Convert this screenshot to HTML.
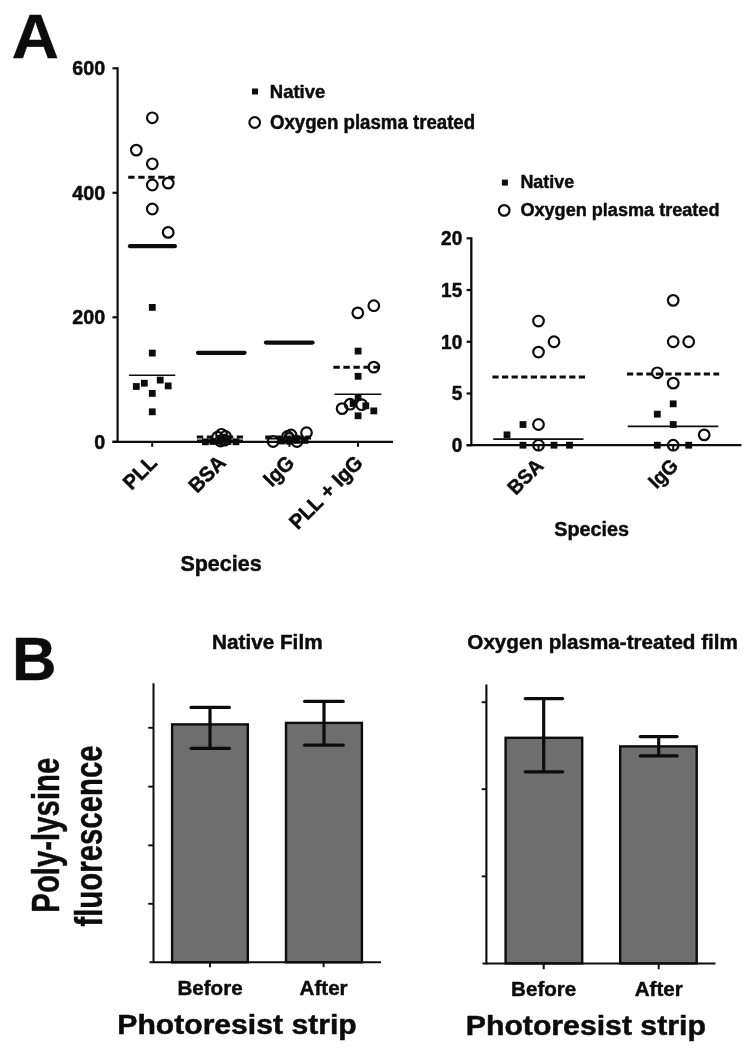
<!DOCTYPE html>
<html><head><meta charset="utf-8"><title>Figure</title>
<style>
html,body{margin:0;padding:0;background:#fff;}
svg{display:block;filter:blur(0.45px);font-family:"Liberation Sans",sans-serif;font-weight:bold;fill:#0c0c0c;}
text{stroke:#0c0c0c;stroke-width:0.45px;stroke-linejoin:round;}
</style></head><body>
<svg width="754" height="1050" viewBox="0 0 754 1050">
<rect width="754" height="1050" fill="#fff"/>
<text transform="translate(11.8,58.1) scale(1.05,1.02)" font-size="62.2" text-anchor="start" >A</text>
<text transform="translate(11.9,680.0) scale(1,1.005)" font-size="61.6" text-anchor="start" >B</text>
<line x1="117.6" y1="67.3" x2="117.6" y2="442.8" stroke="#0c0c0c" stroke-width="2.2" stroke-linecap="butt"/>
<line x1="112.5" y1="441.8" x2="393" y2="441.8" stroke="#0c0c0c" stroke-width="2.3" stroke-linecap="butt"/>
<line x1="112.5" y1="441.8" x2="117.6" y2="441.8" stroke="#0c0c0c" stroke-width="2.2" stroke-linecap="butt"/>
<text transform="translate(105.2,448.8) scale(1,1.04)" font-size="19.7" text-anchor="end" >0</text>
<line x1="112.5" y1="317.3" x2="117.6" y2="317.3" stroke="#0c0c0c" stroke-width="2.2" stroke-linecap="butt"/>
<text transform="translate(105.2,324.3) scale(1,1.04)" font-size="19.7" text-anchor="end" >200</text>
<line x1="112.5" y1="192.8" x2="117.6" y2="192.8" stroke="#0c0c0c" stroke-width="2.2" stroke-linecap="butt"/>
<text transform="translate(105.2,199.8) scale(1,1.04)" font-size="19.7" text-anchor="end" >400</text>
<line x1="112.5" y1="68.30000000000001" x2="117.6" y2="68.30000000000001" stroke="#0c0c0c" stroke-width="2.2" stroke-linecap="butt"/>
<text transform="translate(105.2,75.30000000000001) scale(1,1.04)" font-size="19.7" text-anchor="end" >600</text>
<line x1="152.2" y1="441.8" x2="152.2" y2="446.8" stroke="#0c0c0c" stroke-width="2" stroke-linecap="butt"/>
<line x1="220.8" y1="441.8" x2="220.8" y2="446.8" stroke="#0c0c0c" stroke-width="2" stroke-linecap="butt"/>
<line x1="289.4" y1="441.8" x2="289.4" y2="446.8" stroke="#0c0c0c" stroke-width="2" stroke-linecap="butt"/>
<line x1="358" y1="441.8" x2="358" y2="446.8" stroke="#0c0c0c" stroke-width="2" stroke-linecap="butt"/>
<text font-size="20.1" text-anchor="end" transform="translate(158.29999999999998,464.1) rotate(-45) scale(1,1.04)">PLL</text>
<text font-size="20.1" text-anchor="end" transform="translate(226.9,464.1) rotate(-45) scale(1,1.04)">BSA</text>
<text font-size="20.1" text-anchor="end" transform="translate(295.5,464.1) rotate(-45) scale(1,1.04)">IgG</text>
<text font-size="20.1" text-anchor="end" transform="translate(364.1,464.1) rotate(-45) scale(1,1.04)">PLL + IgG</text>
<text transform="translate(221,571.4) scale(1,1.04)" font-size="21.5" text-anchor="middle" >Species</text>
<line x1="128.2" y1="177.3" x2="175" y2="177.3" stroke="#0c0c0c" stroke-width="3.0" stroke-dasharray="6.4 3.6" stroke-linecap="butt"/>
<line x1="130" y1="246.2" x2="174.8" y2="246.2" stroke="#0c0c0c" stroke-width="4.3" stroke-linecap="round"/>
<line x1="128.9" y1="375.3" x2="175.3" y2="375.3" stroke="#0c0c0c" stroke-width="1.45" stroke-linecap="butt"/>
<circle cx="152.3" cy="117.8" r="5.3" fill="none" stroke="#0c0c0c" stroke-width="2.2"/>
<circle cx="136.3" cy="150.1" r="5.3" fill="none" stroke="#0c0c0c" stroke-width="2.2"/>
<circle cx="152.3" cy="163.8" r="5.3" fill="none" stroke="#0c0c0c" stroke-width="2.2"/>
<circle cx="152.3" cy="185" r="5.3" fill="none" stroke="#0c0c0c" stroke-width="2.2"/>
<circle cx="168.2" cy="183.1" r="5.3" fill="none" stroke="#0c0c0c" stroke-width="2.2"/>
<circle cx="152.3" cy="209" r="5.3" fill="none" stroke="#0c0c0c" stroke-width="2.2"/>
<circle cx="168.2" cy="232.4" r="5.3" fill="none" stroke="#0c0c0c" stroke-width="2.2"/>
<rect x="148.90" y="304.00" width="6.8" height="6.8" fill="#0c0c0c"/>
<rect x="148.90" y="349.70" width="6.8" height="6.8" fill="#0c0c0c"/>
<rect x="132.90" y="383.10" width="6.8" height="6.8" fill="#0c0c0c"/>
<rect x="140.90" y="379.80" width="6.8" height="6.8" fill="#0c0c0c"/>
<rect x="156.80" y="376.70" width="6.8" height="6.8" fill="#0c0c0c"/>
<rect x="164.80" y="382.50" width="6.8" height="6.8" fill="#0c0c0c"/>
<rect x="148.90" y="390.00" width="6.8" height="6.8" fill="#0c0c0c"/>
<rect x="148.90" y="408.40" width="6.8" height="6.8" fill="#0c0c0c"/>
<line x1="198" y1="352.85" x2="244.5" y2="352.85" stroke="#0c0c0c" stroke-width="4.3" stroke-linecap="round"/>
<line x1="196.8" y1="437" x2="243" y2="437" stroke="#0c0c0c" stroke-width="3.0" stroke-dasharray="6.4 3.6" stroke-linecap="butt"/>
<line x1="197" y1="440.2" x2="243" y2="440.2" stroke="#0c0c0c" stroke-width="1.6" stroke-linecap="butt"/>
<rect x="202.00" y="438.40" width="6.8" height="6.8" fill="#0c0c0c"/>
<rect x="209.40" y="438.10" width="6.8" height="6.8" fill="#0c0c0c"/>
<rect x="217.00" y="437.80" width="6.8" height="6.8" fill="#0c0c0c"/>
<rect x="224.60" y="438.10" width="6.8" height="6.8" fill="#0c0c0c"/>
<rect x="232.60" y="438.40" width="6.8" height="6.8" fill="#0c0c0c"/>
<circle cx="217.5" cy="437.2" r="5.3" fill="none" stroke="#0c0c0c" stroke-width="2.2"/>
<circle cx="221.5" cy="434.3" r="5.3" fill="none" stroke="#0c0c0c" stroke-width="2.2"/>
<circle cx="225.5" cy="436.5" r="5.3" fill="none" stroke="#0c0c0c" stroke-width="2.2"/>
<circle cx="220.5" cy="441" r="5.3" fill="none" stroke="#0c0c0c" stroke-width="2.2"/>
<circle cx="224.5" cy="440.2" r="5.3" fill="none" stroke="#0c0c0c" stroke-width="2.2"/>
<line x1="266" y1="342.55" x2="312.5" y2="342.55" stroke="#0c0c0c" stroke-width="4.3" stroke-linecap="round"/>
<line x1="265.2" y1="437" x2="311" y2="437" stroke="#0c0c0c" stroke-width="3.0" stroke-dasharray="6.4 3.6" stroke-linecap="butt"/>
<line x1="265.5" y1="438.6" x2="311" y2="438.6" stroke="#0c0c0c" stroke-width="1.6" stroke-linecap="butt"/>
<rect x="278.60" y="437.60" width="6.8" height="6.8" fill="#0c0c0c"/>
<rect x="286.00" y="437.60" width="6.8" height="6.8" fill="#0c0c0c"/>
<rect x="293.60" y="437.00" width="6.8" height="6.8" fill="#0c0c0c"/>
<rect x="301.60" y="437.00" width="6.8" height="6.8" fill="#0c0c0c"/>
<circle cx="273.1" cy="441.5" r="5.3" fill="none" stroke="#0c0c0c" stroke-width="2.2"/>
<circle cx="297" cy="441.5" r="5.3" fill="none" stroke="#0c0c0c" stroke-width="2.2"/>
<circle cx="306.5" cy="432.7" r="5.3" fill="none" stroke="#0c0c0c" stroke-width="2.2"/>
<circle cx="287.5" cy="436.5" r="5.3" fill="none" stroke="#0c0c0c" stroke-width="2.2"/>
<circle cx="291" cy="435" r="5.3" fill="none" stroke="#0c0c0c" stroke-width="2.2"/>
<circle cx="289.4" cy="438.5" r="5.3" fill="none" stroke="#0c0c0c" stroke-width="2.2"/>
<line x1="333.4" y1="367.3" x2="380.5" y2="367.3" stroke="#0c0c0c" stroke-width="3.0" stroke-dasharray="6.4 3.6" stroke-linecap="butt"/>
<line x1="334.4" y1="394.3" x2="381.4" y2="394.3" stroke="#0c0c0c" stroke-width="1.6" stroke-linecap="butt"/>
<rect x="354.70" y="347.70" width="6.8" height="6.8" fill="#0c0c0c"/>
<rect x="354.70" y="372.90" width="6.8" height="6.8" fill="#0c0c0c"/>
<rect x="354.70" y="394.10" width="6.8" height="6.8" fill="#0c0c0c"/>
<rect x="349.80" y="400.10" width="6.8" height="6.8" fill="#0c0c0c"/>
<rect x="362.40" y="402.40" width="6.8" height="6.8" fill="#0c0c0c"/>
<rect x="370.40" y="407.50" width="6.8" height="6.8" fill="#0c0c0c"/>
<rect x="354.70" y="412.40" width="6.8" height="6.8" fill="#0c0c0c"/>
<circle cx="357.8" cy="312.9" r="5.3" fill="none" stroke="#0c0c0c" stroke-width="2.2"/>
<circle cx="373.8" cy="305.7" r="5.3" fill="none" stroke="#0c0c0c" stroke-width="2.2"/>
<circle cx="373.8" cy="367.1" r="5.3" fill="none" stroke="#0c0c0c" stroke-width="2.2"/>
<circle cx="342.1" cy="408.6" r="5.3" fill="none" stroke="#0c0c0c" stroke-width="2.2"/>
<circle cx="350.1" cy="404.2" r="5.3" fill="none" stroke="#0c0c0c" stroke-width="2.2"/>
<circle cx="361.7" cy="404.7" r="5.3" fill="none" stroke="#0c0c0c" stroke-width="2.2"/>
<rect x="252.00" y="88.50" width="6" height="6" fill="#0c0c0c"/>
<circle cx="254.7" cy="122.5" r="5.3" fill="none" stroke="#0c0c0c" stroke-width="2.2"/>
<text transform="translate(269.8,98) scale(1,1.04)" font-size="18.5" text-anchor="start" >Native</text>
<text transform="translate(270,128.6) scale(1,1.04)" font-size="18.65" text-anchor="start" >Oxygen plasma treated</text>
<line x1="471.3" y1="237.3" x2="471.3" y2="446.2" stroke="#0c0c0c" stroke-width="2.3" stroke-linecap="butt"/>
<line x1="466.6" y1="445.2" x2="741.5" y2="445.2" stroke="#0c0c0c" stroke-width="2.3" stroke-linecap="butt"/>
<line x1="466.6" y1="445.2" x2="471.3" y2="445.2" stroke="#0c0c0c" stroke-width="2.2" stroke-linecap="butt"/>
<text transform="translate(462.2,452.09999999999997) scale(1,1.04)" font-size="19.0" text-anchor="end" >0</text>
<line x1="466.6" y1="393.47499999999997" x2="471.3" y2="393.47499999999997" stroke="#0c0c0c" stroke-width="2.2" stroke-linecap="butt"/>
<text transform="translate(462.2,400.37499999999994) scale(1,1.04)" font-size="19.0" text-anchor="end" >5</text>
<line x1="466.6" y1="341.75" x2="471.3" y2="341.75" stroke="#0c0c0c" stroke-width="2.2" stroke-linecap="butt"/>
<text transform="translate(462.2,348.65) scale(1,1.04)" font-size="19.0" text-anchor="end" >10</text>
<line x1="466.6" y1="290.025" x2="471.3" y2="290.025" stroke="#0c0c0c" stroke-width="2.2" stroke-linecap="butt"/>
<text transform="translate(462.2,296.92499999999995) scale(1,1.04)" font-size="19.0" text-anchor="end" >15</text>
<line x1="466.6" y1="238.29999999999998" x2="471.3" y2="238.29999999999998" stroke="#0c0c0c" stroke-width="2.2" stroke-linecap="butt"/>
<text transform="translate(462.2,245.2) scale(1,1.04)" font-size="19.0" text-anchor="end" >20</text>
<line x1="538.5" y1="445.2" x2="538.5" y2="450.2" stroke="#0c0c0c" stroke-width="2" stroke-linecap="butt"/>
<text font-size="19.4" text-anchor="end" transform="translate(544.6,467.0) rotate(-45) scale(1,1.04)">BSA</text>
<line x1="673.2" y1="445.2" x2="673.2" y2="450.2" stroke="#0c0c0c" stroke-width="2" stroke-linecap="butt"/>
<text font-size="19.4" text-anchor="end" transform="translate(679.3000000000001,467.0) rotate(-45) scale(1,1.04)">IgG</text>
<text transform="translate(591.6,536.1) scale(1,1.04)" font-size="19.8" text-anchor="middle" >Species</text>
<line x1="492.4" y1="376.9" x2="585.4" y2="376.9" stroke="#0c0c0c" stroke-width="3.0" stroke-dasharray="6.2 3.4" stroke-linecap="butt"/>
<line x1="493.2" y1="439.1" x2="583.5" y2="439.1" stroke="#0c0c0c" stroke-width="1.6" stroke-linecap="butt"/>
<line x1="627" y1="374.1" x2="719.2" y2="374.1" stroke="#0c0c0c" stroke-width="3.0" stroke-dasharray="6.2 3.4" stroke-linecap="butt"/>
<line x1="627.7" y1="426.4" x2="718.3" y2="426.4" stroke="#0c0c0c" stroke-width="1.6" stroke-linecap="butt"/>
<rect x="503.60" y="431.46" width="6.8" height="6.8" fill="#0c0c0c"/>
<rect x="519.60" y="421.11" width="6.8" height="6.8" fill="#0c0c0c"/>
<rect x="519.60" y="441.80" width="6.8" height="6.8" fill="#0c0c0c"/>
<rect x="550.60" y="441.80" width="6.8" height="6.8" fill="#0c0c0c"/>
<rect x="566.10" y="441.80" width="6.8" height="6.8" fill="#0c0c0c"/>
<rect x="669.80" y="400.42" width="6.8" height="6.8" fill="#0c0c0c"/>
<rect x="653.90" y="410.76" width="6.8" height="6.8" fill="#0c0c0c"/>
<rect x="669.80" y="421.11" width="6.8" height="6.8" fill="#0c0c0c"/>
<rect x="653.90" y="441.80" width="6.8" height="6.8" fill="#0c0c0c"/>
<rect x="685.30" y="441.80" width="6.8" height="6.8" fill="#0c0c0c"/>
<circle cx="538.5" cy="321.06" r="5.3" fill="none" stroke="#0c0c0c" stroke-width="2.2"/>
<circle cx="554" cy="341.75" r="5.3" fill="none" stroke="#0c0c0c" stroke-width="2.2"/>
<circle cx="538.5" cy="352.095" r="5.3" fill="none" stroke="#0c0c0c" stroke-width="2.2"/>
<circle cx="538.5" cy="424.51" r="5.3" fill="none" stroke="#0c0c0c" stroke-width="2.2"/>
<circle cx="538.5" cy="445.2" r="5.3" fill="none" stroke="#0c0c0c" stroke-width="2.2"/>
<circle cx="673.2" cy="300.37" r="5.3" fill="none" stroke="#0c0c0c" stroke-width="2.2"/>
<circle cx="673.2" cy="341.75" r="5.3" fill="none" stroke="#0c0c0c" stroke-width="2.2"/>
<circle cx="688.7" cy="341.75" r="5.3" fill="none" stroke="#0c0c0c" stroke-width="2.2"/>
<circle cx="657.3" cy="372.78499999999997" r="5.3" fill="none" stroke="#0c0c0c" stroke-width="2.2"/>
<circle cx="673.2" cy="383.13" r="5.3" fill="none" stroke="#0c0c0c" stroke-width="2.2"/>
<circle cx="704.2" cy="434.855" r="5.3" fill="none" stroke="#0c0c0c" stroke-width="2.2"/>
<circle cx="673.2" cy="445.2" r="5.3" fill="none" stroke="#0c0c0c" stroke-width="2.2"/>
<rect x="501.90" y="179.60" width="6" height="6" fill="#0c0c0c"/>
<circle cx="504.2" cy="210.4" r="5.3" fill="none" stroke="#0c0c0c" stroke-width="2.2"/>
<text transform="translate(520.4,188.3) scale(1,1.04)" font-size="17.9" text-anchor="start" >Native</text>
<text transform="translate(520.4,215.9) scale(1,1.04)" font-size="18.1" text-anchor="start" >Oxygen plasma treated</text>
<text transform="translate(267.3,648.7) scale(1.068,1.01)" font-size="19.4" text-anchor="middle" >Native Film</text>
<rect x="172.1" y="724.4" width="75.7" height="237.9" fill="#6e6e6e" stroke="#0c0c0c" stroke-width="2.4"/>
<rect x="286" y="722.9" width="75.9" height="239.4" fill="#6e6e6e" stroke="#0c0c0c" stroke-width="2.4"/>
<line x1="153.5" y1="683.2" x2="153.5" y2="963.1" stroke="#0c0c0c" stroke-width="2.0" stroke-linecap="butt"/>
<line x1="149.5" y1="962.2" x2="381" y2="962.2" stroke="#0c0c0c" stroke-width="1.9" stroke-linecap="butt"/>
<line x1="148.2" y1="727.8" x2="153.5" y2="727.8" stroke="#0c0c0c" stroke-width="1.9" stroke-linecap="butt"/>
<line x1="148.2" y1="786.6" x2="153.5" y2="786.6" stroke="#0c0c0c" stroke-width="1.9" stroke-linecap="butt"/>
<line x1="148.2" y1="845.4" x2="153.5" y2="845.4" stroke="#0c0c0c" stroke-width="1.9" stroke-linecap="butt"/>
<line x1="148.2" y1="903.8" x2="153.5" y2="903.8" stroke="#0c0c0c" stroke-width="1.9" stroke-linecap="butt"/>
<line x1="210" y1="707.4" x2="210" y2="748.3" stroke="#0c0c0c" stroke-width="3.2" stroke-linecap="butt"/><line x1="191.0" y1="707.4" x2="229.39999999999998" y2="707.4" stroke="#0c0c0c" stroke-width="3.2" stroke-linecap="round"/><line x1="191.0" y1="748.3" x2="229.39999999999998" y2="748.3" stroke="#0c0c0c" stroke-width="3.2" stroke-linecap="round"/>
<line x1="324" y1="701.3" x2="324" y2="745.2" stroke="#0c0c0c" stroke-width="3.2" stroke-linecap="butt"/><line x1="304.6" y1="701.3" x2="343.2" y2="701.3" stroke="#0c0c0c" stroke-width="3.2" stroke-linecap="round"/><line x1="304.6" y1="745.2" x2="343.2" y2="745.2" stroke="#0c0c0c" stroke-width="3.2" stroke-linecap="round"/>
<line x1="210" y1="962.3" x2="210" y2="967.2" stroke="#0c0c0c" stroke-width="1.9" stroke-linecap="butt"/>
<text transform="translate(210,995.2) scale(1,1)" font-size="20.6" text-anchor="middle" >Before</text>
<line x1="323.6" y1="962.3" x2="323.6" y2="967.2" stroke="#0c0c0c" stroke-width="1.9" stroke-linecap="butt"/>
<text transform="translate(323.6,995.2) scale(1,1)" font-size="20.6" text-anchor="middle" >After</text>
<text transform="translate(237,1034.3) scale(1.164,1.075)" font-size="25.9" text-anchor="middle" >Photoresist strip</text>
<text font-size="38.4" text-anchor="middle" transform="translate(59,835.2) rotate(-90) scale(0.765,1)">Poly-lysine</text>
<text font-size="38.4" text-anchor="middle" transform="translate(101.6,836) rotate(-90) scale(0.765,1)">fluorescence</text>
<text transform="translate(602.6,649.2) scale(1.064,1.01)" font-size="19.4" text-anchor="middle" >Oxygen plasma-treated film</text>
<rect x="505.6" y="737.8" width="76.6" height="225.6" fill="#6e6e6e" stroke="#0c0c0c" stroke-width="2.4"/>
<rect x="620.2" y="746.4" width="76.5" height="217.0" fill="#6e6e6e" stroke="#0c0c0c" stroke-width="2.4"/>
<line x1="486.4" y1="684.5" x2="486.4" y2="964.5" stroke="#0c0c0c" stroke-width="2.1" stroke-linecap="butt"/>
<line x1="482.5" y1="963.5" x2="715.5" y2="963.5" stroke="#0c0c0c" stroke-width="2.1" stroke-linecap="butt"/>
<line x1="481.7" y1="702.2" x2="486.4" y2="702.2" stroke="#0c0c0c" stroke-width="1.9" stroke-linecap="butt"/>
<line x1="481.7" y1="789.2" x2="486.4" y2="789.2" stroke="#0c0c0c" stroke-width="1.9" stroke-linecap="butt"/>
<line x1="481.7" y1="876.4" x2="486.4" y2="876.4" stroke="#0c0c0c" stroke-width="1.9" stroke-linecap="butt"/>
<line x1="543.7" y1="698.6" x2="543.7" y2="771.8" stroke="#0c0c0c" stroke-width="3.2" stroke-linecap="butt"/><line x1="525.1999999999999" y1="698.6" x2="562.6" y2="698.6" stroke="#0c0c0c" stroke-width="3.2" stroke-linecap="round"/><line x1="525.1999999999999" y1="771.8" x2="562.6" y2="771.8" stroke="#0c0c0c" stroke-width="3.2" stroke-linecap="round"/>
<line x1="658.7" y1="736.6" x2="658.7" y2="755.9" stroke="#0c0c0c" stroke-width="3.2" stroke-linecap="butt"/><line x1="640.1999999999999" y1="736.6" x2="677.1" y2="736.6" stroke="#0c0c0c" stroke-width="3.2" stroke-linecap="round"/><line x1="640.1999999999999" y1="755.9" x2="677.1" y2="755.9" stroke="#0c0c0c" stroke-width="3.2" stroke-linecap="round"/>
<line x1="543.7" y1="963.5" x2="543.7" y2="969.3" stroke="#0c0c0c" stroke-width="2.0" stroke-linecap="butt"/>
<text transform="translate(543.7,996.2) scale(1,1)" font-size="20.6" text-anchor="middle" >Before</text>
<line x1="658.7" y1="963.5" x2="658.7" y2="969.3" stroke="#0c0c0c" stroke-width="2.0" stroke-linecap="butt"/>
<text transform="translate(658.7,996.2) scale(1,1)" font-size="20.6" text-anchor="middle" >After</text>
<text transform="translate(585.8,1034.7) scale(1.167,1.085)" font-size="25.9" text-anchor="middle" >Photoresist strip</text>
</svg>
</body></html>
